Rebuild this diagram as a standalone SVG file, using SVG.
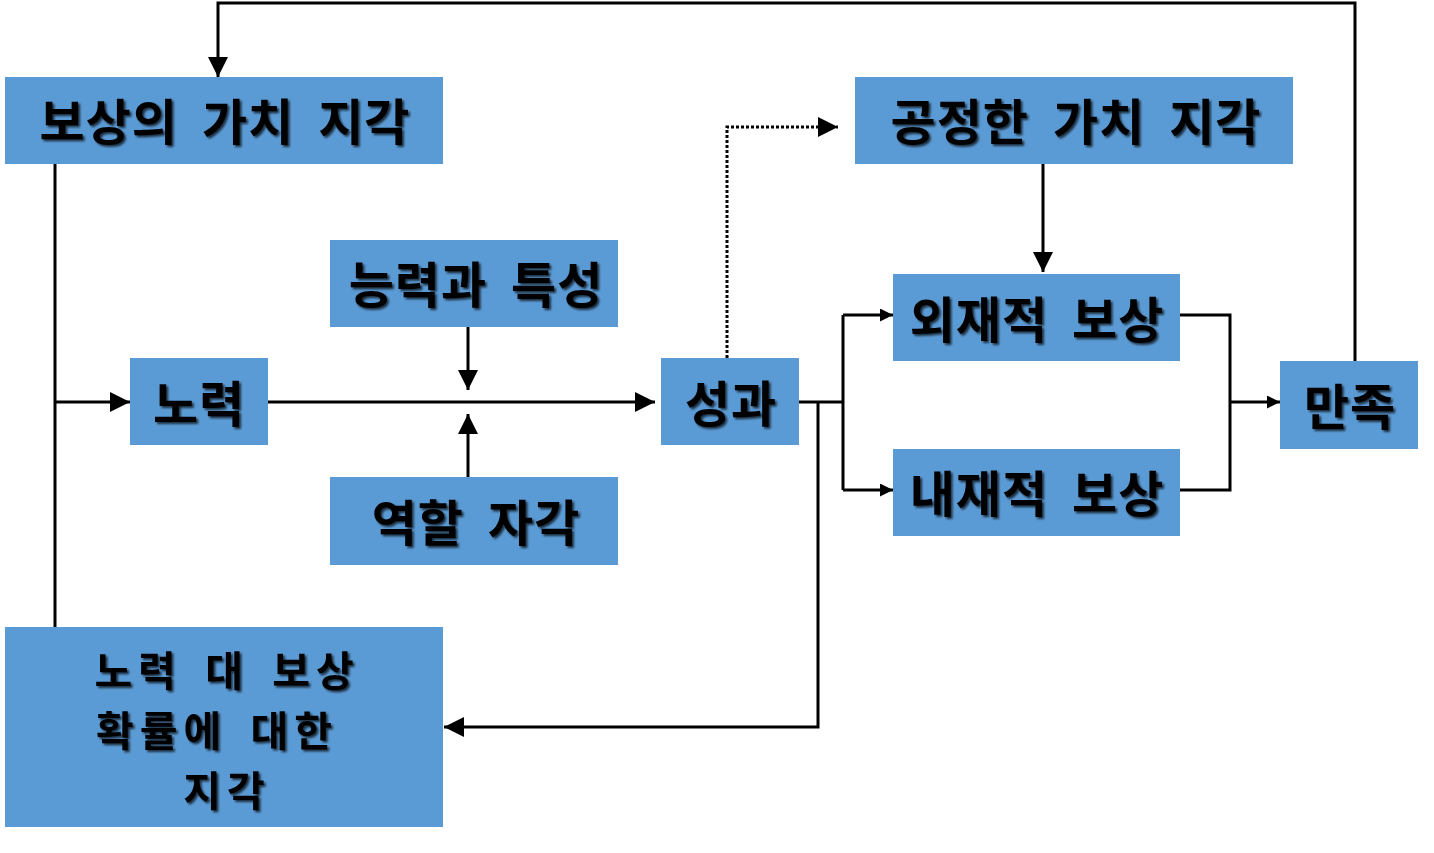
<svg xmlns="http://www.w3.org/2000/svg" width="1434" height="853" viewBox="0 0 1434 853">
<defs>
<style>
.box{fill:#5B9BD5}
.t{font-family:"Noto Sans CJK KR","Noto Sans CJK SC",sans-serif;font-weight:bold;font-size:49px;fill:#000;text-anchor:middle;letter-spacing:1px;word-spacing:12px;filter:url(#sh)}
.m{font-size:41px;letter-spacing:6px;word-spacing:8px}
.ln{fill:none;stroke:#000;stroke-width:3}
.dot{fill:none;stroke:#000;stroke-width:3;stroke-dasharray:3 2}
</style>
<filter id="sh" x="-5%" y="-10%" width="110%" height="130%">
<feDropShadow dx="2" dy="2" stdDeviation="0.8" flood-color="#000" flood-opacity="0.7"/>
</filter>
<marker id="big" markerUnits="userSpaceOnUse" markerWidth="20" markerHeight="20" refX="20" refY="10" orient="auto" viewBox="0 0 20 20">
<path d="M0,0 L20,10 L0,20 z" fill="#000"/>
</marker>
<marker id="sm" markerUnits="userSpaceOnUse" markerWidth="13" markerHeight="13" refX="13" refY="6.5" orient="auto" viewBox="0 0 13 13">
<path d="M0,0 L13,6.5 L0,13 z" fill="#000"/>
</marker>
</defs>
<rect width="1434" height="853" fill="#fff"/>
<g id="connectors">
<path class="ln" d="M1355,361 V3 H218 V77" marker-end="url(#big)"/>
<path class="ln" d="M55,164 V627"/>
<path class="ln" d="M55,402 H130" marker-end="url(#big)"/>
<path class="ln" d="M268,402 H655" marker-end="url(#big)"/>
<path class="ln" d="M468,327 V390" marker-end="url(#big)"/>
<path class="ln" d="M468,477 V414" marker-end="url(#big)"/>
<path class="ln" d="M799,402 H843"/>
<path class="ln" d="M843,315 V490"/>
<path class="ln" d="M843,315 H893" marker-end="url(#sm)"/>
<path class="ln" d="M843,490 H893" marker-end="url(#sm)"/>
<path class="ln" d="M818,402 V727 H444" marker-end="url(#big)"/>
<path class="dot" d="M727,358 V127 H838" marker-end="url(#big)"/>
<path class="ln" d="M1043,164 V272" marker-end="url(#big)"/>
<path class="ln" d="M1180,315 H1230 V490 H1180"/>
<path class="ln" d="M1230,402 H1280" marker-end="url(#sm)"/>
</g>
<g id="n1"><rect class="box" x="5" y="77" width="438" height="87"/><text class="t" x="225" y="140">보상의 가치 지각</text></g>
<g id="n2"><rect class="box" x="855" y="77" width="438" height="87"/><text class="t" x="1076" y="140">공정한 가치 지각</text></g>
<g id="n3"><rect class="box" x="330" y="240" width="288" height="87"/><text class="t" x="476" y="303">능력과 특성</text></g>
<g id="n4"><rect class="box" x="330" y="477" width="288" height="88"/><text class="t" x="476" y="541">역할 자각</text></g>
<g id="n5"><rect class="box" x="130" y="358" width="138" height="87"/><text class="t" x="199" y="422">노력</text></g>
<g id="n6"><rect class="box" x="661" y="358" width="138" height="87"/><text class="t" x="731" y="422">성과</text></g>
<g id="n7"><rect class="box" x="893" y="274" width="287" height="87"/><text class="t" x="1037" y="338">외재적 보상</text></g>
<g id="n8"><rect class="box" x="893" y="449" width="287" height="87"/><text class="t" x="1037" y="512">내재적 보상</text></g>
<g id="n9"><rect class="box" x="1280" y="361" width="138" height="88"/><text class="t" x="1350" y="425">만족</text></g>
<g id="n10"><rect class="box" x="5" y="627" width="438" height="200"/>
<text class="t m"><tspan x="227" y="686">노력 대 보상</tspan><tspan x="217" y="746">확률에 대한</tspan><tspan x="227" y="806">지각</tspan></text></g>
</svg>
